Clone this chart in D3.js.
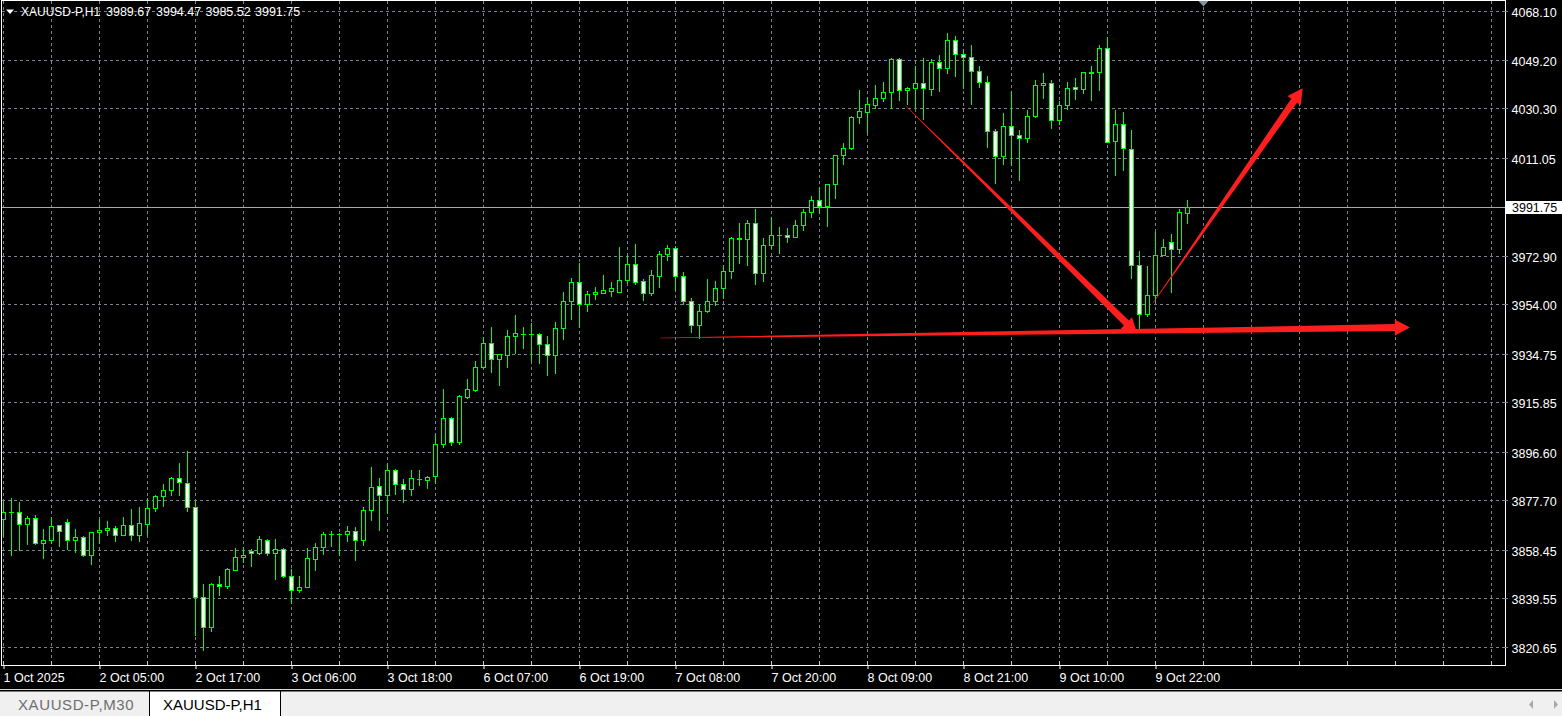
<!DOCTYPE html>
<html><head><meta charset="utf-8">
<script src="https://cdn.jsdelivr.net/npm/d3@7/dist/d3.min.js"></script>
<style>
html,body{margin:0;padding:0;background:#000;overflow:hidden;}
svg{display:block;}
text{font-family:"Liberation Sans",Arial,sans-serif;}
</style></head><body>
<svg id="c" width="1562" height="716"></svg>
<script>
const symbol = "XAUUSD-P,H1";
const headerValues = ["3989.67", "3994.47", "3985.52", "3991.75"];
const lastPrice = 3991.75;

const open = [3870.4,3873.1,3873.1,3868.5,3870.8,3861.1,3862.3,3868.1,3869.3,3862.3,
3863.4,3856.3,3865.4,3866.1,3866.9,3864.2,3868.1,3864.2,3868.5,3874.7,
3879.4,3881.7,3886.4,3884.4,3875.1,3840.1,3828.4,3845.3,3844.2,3850.8,
3855.5,3858.1,3857.2,3862.3,3857.2,3858.8,3848.1,3842.7,3844.0,3854.9,
3859.5,3864.6,3864.6,3864.5,3865.8,3862.1,3873.8,3883.3,3879.6,3889.5,
3884.0,3882.0,3886.2,3885.5,3887.0,3899.6,3909.7,3900.6,3918.1,3920.8,
3929.4,3938.9,3932.6,3934.1,3941.6,3942.5,3942.3,3942.3,3938.5,3934.1,
3944.7,3955.1,3962.6,3954.0,3957.9,3958.3,3959.3,3958.9,3963.4,3969.6,
3963.0,3958.3,3964.9,3973.5,3975.8,3964.9,3955.2,3945.9,3951.3,3955.2,
3960.2,3966.9,3979.4,3979.3,3985.5,3966.3,3977.0,3981.0,3981.1,3980.1,
3984.9,3989.8,3994.5,3992.4,4000.7,4011.9,4014.9,4026.7,4028.9,4031.7,
4034.1,4036.5,4049.3,4037.2,4038.0,4040.0,4037.9,4048.1,4045.8,4056.7,
4051.2,4050.1,4044.9,4040.4,4021.3,4011.8,4023.2,4019.7,4018.5,4027.1,
4039.2,4040.0,4025.8,4031.4,4038.4,4037.6,4044.2,4044.5,4053.6,4017.7,
4024.0,4014.3,3969.2,3950.4,3957.5,3973.1,3978.3,3975.4,3989.67];
const high = [3877.0,3878.6,3877.0,3871.7,3872.0,3866.7,3871.2,3868.3,3870.4,3866.7,
3863.7,3865.4,3870.4,3869.8,3867.7,3871.2,3874.4,3875.1,3878.6,3879.9,
3884.2,3886.9,3892.3,3896.9,3877.3,3845.3,3845.5,3848.1,3851.5,3859.3,
3859.7,3858.9,3863.8,3862.6,3862.8,3859.1,3851.0,3848.4,3859.3,3861.2,
3865.4,3865.9,3864.9,3867.7,3867.3,3875.2,3890.8,3886.5,3892.3,3890.0,
3886.1,3889.5,3889.6,3887.3,3903.6,3921.1,3910.3,3918.8,3925.0,3932.0,
3941.2,3945.2,3934.8,3944.0,3949.9,3945.2,3946.8,3942.9,3941.7,3947.2,
3958.8,3964.3,3970.1,3959.2,3960.8,3965.4,3962.7,3976.3,3973.2,3977.5,
3963.7,3967.2,3974.6,3977.1,3976.8,3966.6,3956.5,3954.2,3963.9,3963.1,
3969.3,3980.1,3985.7,3986.7,3991.0,3979.7,3988.0,3984.0,3983.6,3986.8,
3991.2,3996.2,3999.6,4000.8,4012.0,4016.8,4027.2,4037.4,4034.5,4039.3,
4040.5,4049.7,4049.7,4038.5,4046.7,4049.7,4049.3,4051.0,4059.4,4058.4,
4053.3,4054.9,4046.7,4042.8,4022.2,4028.4,4037.0,4021.8,4029.6,4041.1,
4044.0,4041.3,4033.1,4040.5,4041.9,4044.3,4046.7,4054.9,4058.1,4029.6,
4028.9,4021.8,3974.8,3968.9,3982.3,3979.4,3981.4,3991.1,3994.47];
const low = [3863.7,3856.6,3858.2,3860.8,3860.6,3855.1,3861.0,3860.1,3858.8,3857.6,
3855.9,3852.8,3861.0,3864.1,3861.7,3864.1,3862.1,3861.7,3864.6,3873.4,
3875.7,3879.6,3879.9,3873.4,3825.2,3819.3,3827.0,3840.7,3843.5,3850.5,
3853.6,3852.0,3856.7,3856.4,3847.3,3847.7,3837.8,3841.9,3843.8,3850.7,
3856.9,3860.1,3856.4,3862.0,3854.6,3860.4,3870.2,3866.3,3872.7,3880.3,
3876.9,3879.9,3883.5,3882.7,3884.3,3898.3,3899.1,3899.8,3917.7,3920.1,
3929.3,3927.5,3922.4,3929.4,3935.0,3936.8,3932.5,3931.3,3926.3,3927.1,
3940.3,3948.1,3945.3,3951.2,3955.9,3958.2,3957.4,3958.6,3962.2,3961.8,
3955.8,3957.5,3960.9,3971.4,3959.5,3954.2,3943.4,3940.7,3951.0,3953.9,
3956.4,3964.4,3970.2,3969.1,3961.7,3963.2,3975.8,3974.1,3978.4,3980.0,
3982.9,3988.1,3989.4,3984.6,3995.5,4008.7,4014.6,4024.7,4021.2,4030.2,
4033.1,4030.5,4033.5,4032.1,4030.8,4026.2,4035.4,4037.1,4044.1,4042.9,
4038.3,4032.1,4038.7,4015.3,4001.3,4008.6,4008.0,4002.4,4017.1,4027.0,
4034.3,4022.6,4024.3,4030.1,4033.9,4036.2,4033.5,4037.4,4017.2,4004.3,
4006.3,3964.4,3944.9,3949.6,3955.7,3973.0,3958.7,3974.1,3985.52];
const close = [3873.1,3873.0,3868.5,3870.8,3861.0,3862.3,3867.7,3865.8,3862.3,3863.4,
3856.3,3865.4,3866.1,3866.9,3864.2,3868.1,3864.2,3868.9,3874.7,3879.4,
3881.7,3886.4,3884.8,3875.1,3840.1,3828.4,3845.3,3844.2,3851.1,3855.8,
3856.6,3857.2,3862.6,3857.2,3858.8,3848.1,3842.7,3844.0,3855.3,3859.5,
3864.6,3864.8,3864.8,3865.8,3862.1,3873.9,3882.9,3879.6,3889.5,3884.0,
3882.0,3886.4,3886.1,3886.9,3899.6,3909.7,3900.6,3918.4,3920.9,3929.6,
3938.9,3932.6,3934.7,3941.6,3942.7,3942.4,3942.4,3938.5,3934.1,3944.7,
3955.3,3962.6,3954.0,3957.9,3958.8,3959.5,3960.2,3963.4,3969.6,3962.8,
3958.3,3965.3,3973.5,3975.8,3964.9,3955.2,3945.9,3951.3,3955.2,3960.2,
3966.9,3979.7,3979.6,3985.5,3966.1,3977.0,3980.8,3981.1,3980.1,3984.7,
3989.8,3994.5,3992.4,4000.7,4011.9,4014.7,4026.7,4029.1,4031.8,4034.1,
4036.5,4049.3,4037.2,4038.0,4040.0,4038.0,4048.1,4045.8,4056.7,4051.2,
4050.1,4044.9,4040.4,4021.3,4011.8,4023.2,4019.7,4018.5,4027.1,4039.2,
4040.0,4025.8,4031.4,4038.0,4037.6,4044.2,4044.1,4053.6,4017.3,4024.0,
4014.7,3969.1,3950.4,3957.5,3973.1,3976.2,3975.4,3989.8,3991.75];

const priceLabels = [4068.10, 4049.20, 4030.30, 4011.05, 3972.90, 3954.00, 3934.75, 3915.85, 3896.60, 3877.70, 3858.45, 3839.55, 3820.65];
const gridPrices = [4068.10, 4049.20, 4030.30, 4011.05, 3992.00, 3972.90, 3954.00, 3934.75, 3915.85, 3896.60, 3877.70, 3858.45, 3839.55, 3820.65];
const timeTickBars = [0, 12, 24, 36, 48, 60, 72, 84, 96, 108, 120, 132, 144];
const timeTickLabels = ["1 Oct 2025", "2 Oct 05:00", "2 Oct 17:00", "3 Oct 06:00", "3 Oct 18:00", "6 Oct 07:00", "6 Oct 19:00", "7 Oct 08:00", "7 Oct 20:00", "8 Oct 09:00", "8 Oct 21:00", "9 Oct 10:00", "9 Oct 22:00"];
// drawn arrows in (bar index, price) units
const arrowFrom = [[112.8, 4031.1], [82.1, 3940.9], [143.7, 3954.5]];
const arrowTo   = [[141.7, 3942.6], [175.8, 3945.0], [162.4, 4038.0]];
const tabs = ["XAUUSD-P,M30", "XAUUSD-P,H1"];

const svg = d3.select("#c");
const W = 1562, H = 716;
const right = 1505, bottom = 665;
const x = d3.scaleLinear().domain([0, 187.5]).range([3.5, 1503.5]);
const y = d3.scaleLinear().domain([3820.65, 4068.10]).range([647, 11]).interpolate(d3.interpolateRound);

svg.append("rect").attr("width", W).attr("height", H).attr("fill", "#000");

// grid
const gridColor = "#7b8591";
const gGrid = svg.append("g");
gGrid.selectAll("line.v").data(d3.range(0, 188, 6).filter(i => x(i) < right)).join("line")
  .attr("x1", d => x(d)).attr("x2", d => x(d)).attr("y1", 1).attr("y2", bottom)
  .attr("stroke", gridColor).attr("stroke-dasharray", "3,3");
gGrid.selectAll("line.h").data(gridPrices).join("line")
  .attr("x1", 2).attr("x2", right).attr("y1", d => y(d) + 0.5).attr("y2", d => y(d) + 0.5)
  .attr("stroke", gridColor).attr("stroke-dasharray", "3,3");

// current price line
svg.append("line").attr("x1", 2).attr("x2", right).attr("y1", y(lastPrice) + 0.5).attr("y2", y(lastPrice) + 0.5)
  .attr("stroke", "#a4abb3");

// candles
const bars = d3.range(open.length).map(i => ({i, o: open[i], h: high[i], l: low[i], c: close[i]}));
const gC = svg.append("g");
gC.selectAll("line.wick").data(bars).join("line")
  .attr("x1", d => x(d.i)).attr("x2", d => x(d.i))
  .attr("y1", d => y(d.h)).attr("y2", d => y(d.l) + 1)
  .attr("stroke", "#00ff00");
bars.forEach(d => {
  const top = y(Math.max(d.o, d.c)), bot = y(Math.min(d.o, d.c));
  if (bot - top < 1) {
    gC.append("line").attr("x1", x(d.i) - 2.5).attr("x2", x(d.i) + 2.5)
      .attr("y1", top + 0.5).attr("y2", top + 0.5).attr("stroke", "#00ff00");
  } else {
    gC.append("rect").attr("x", x(d.i) - 2).attr("y", top + 0.5)
      .attr("width", 4).attr("height", bot - top)
      .attr("fill", d.c >= d.o ? "#000" : "#fff").attr("stroke", "#00ff00");
  }
});

// arrows
const yl = d3.scaleLinear().domain([3820.65, 4068.10]).range([647, 11]);
const gA = svg.append("g");
arrowFrom.forEach((f, k) => {
  const t = arrowTo[k];
  const sx = x(f[0]), sy = yl(f[1]), tx = x(t[0]), ty = yl(t[1]);
  const dx = tx - sx, dy = ty - sy, len = Math.hypot(dx, dy);
  const ux = dx / len, uy = dy / len, nx = -uy, ny = ux;
  const headLen = 15, headHalf = 8, w0 = 0.5, w1 = 7;
  const bx = tx - ux * headLen, by = ty - uy * headLen;
  const pts = [
    [sx + nx * w0 / 2, sy + ny * w0 / 2],
    [bx + nx * w1 / 2, by + ny * w1 / 2],
    [bx + nx * headHalf, by + ny * headHalf],
    [tx, ty],
    [bx - nx * headHalf, by - ny * headHalf],
    [bx - nx * w1 / 2, by - ny * w1 / 2],
    [sx - nx * w0 / 2, sy - ny * w0 / 2]
  ];
  gA.append("polygon").attr("points", pts.map(p => p.join(",")).join(" ")).attr("fill", "#ff1e1e");
});

// frame
svg.append("rect").attr("x", 1.5).attr("y", 0.5).attr("width", right - 1).attr("height", bottom)
  .attr("fill", "none").attr("stroke", "#fff");

// y axis
const yAxis = svg.append("g").attr("transform", `translate(${right},0)`)
  .call(d3.axisRight(y).tickValues(priceLabels).tickSize(5).tickPadding(1.5).tickFormat(d3.format(".2f")));
yAxis.select(".domain").remove();
yAxis.selectAll(".tick line").attr("stroke", gridColor).attr("stroke-dasharray", "3,2");
yAxis.selectAll(".tick text").attr("fill", "#fff").attr("font-size", "12.5px").attr("dy", "0.4em")
  .attr("font-family", '"Liberation Sans",Arial,sans-serif');

// price box
const pyv = y(lastPrice);
svg.append("rect").attr("x", 1506).attr("y", pyv - 6).attr("width", 56).attr("height", 13).attr("fill", "#fff");
svg.append("text").attr("x", 1512).attr("y", pyv + 5).attr("font-size", "12.5px").attr("fill", "#000")
  .text(d3.format(".2f")(lastPrice));

// x axis
const xAxis = svg.append("g").attr("transform", `translate(0,${bottom})`)
  .call(d3.axisBottom(x).tickValues(timeTickBars).tickSize(4).tickFormat((d, i) => timeTickLabels[i]));
xAxis.select(".domain").remove();
xAxis.selectAll(".tick line").attr("stroke", "#fff");
xAxis.selectAll(".tick text").attr("fill", "#fff").attr("font-size", "12.5px")
  .attr("text-anchor", "start").attr("y", 16.5).attr("dy", 0).attr("x", -0.5)
  .attr("font-family", '"Liberation Sans",Arial,sans-serif');
// minor ticks
svg.append("g").selectAll("line").data(d3.range(0, 188, 6).filter(i => x(i) < right)).join("line")
  .attr("x1", d => x(d)).attr("x2", d => x(d)).attr("y1", bottom - 4).attr("y2", bottom)
  .attr("stroke", "#c8c8c8");

// header
svg.append("polygon").attr("points", "6,9.5 14,9.5 10,14").attr("fill", "#fff");
svg.append("text").attr("x", 21).attr("y", 15.5).attr("font-size", "12px").attr("fill", "#fff").text(symbol);
const hx = [106, 156, 205.5, 255];
headerValues.forEach((v, k) => svg.append("text").attr("x", hx[k]).attr("y", 15.5)
  .attr("font-size", "12.5px").attr("fill", "#fff").text(v));

// shift marker
const sm = x(150);
svg.append("polygon").attr("points", `${sm - 5},1 ${sm + 5},1 ${sm},6.5`).attr("fill", "#8592a0");

// tab bar
svg.append("rect").attr("x", 0).attr("y", 689).attr("width", W).attr("height", 1).attr("fill", "#d8d8d8");
svg.append("rect").attr("x", 0).attr("y", 690).attr("width", W).attr("height", 26).attr("fill", "#f0f0f0");
svg.append("rect").attr("x", 0).attr("y", 690).attr("width", W).attr("height", 1.5).attr("fill", "#000");
svg.append("rect").attr("x", 149.5).attr("y", 691).attr("width", 131).attr("height", 26).attr("fill", "#fff").attr("stroke", "#000");
svg.append("text").attr("x", 18).attr("y", 710).attr("font-size", "15px").attr("letter-spacing", "0.6px").attr("fill", "#6e6e6e").text(tabs[0]);
svg.append("text").attr("x", 163).attr("y", 710).attr("font-size", "15px").attr("fill", "#000").text(tabs[1]);
svg.append("polygon").attr("points", "1533,700 1533,709 1529,704.5").attr("fill", "#a8a8a8");
svg.append("polygon").attr("points", "1554,700 1554,709 1558,704.5").attr("fill", "#a8a8a8");
</script>
</body></html>
